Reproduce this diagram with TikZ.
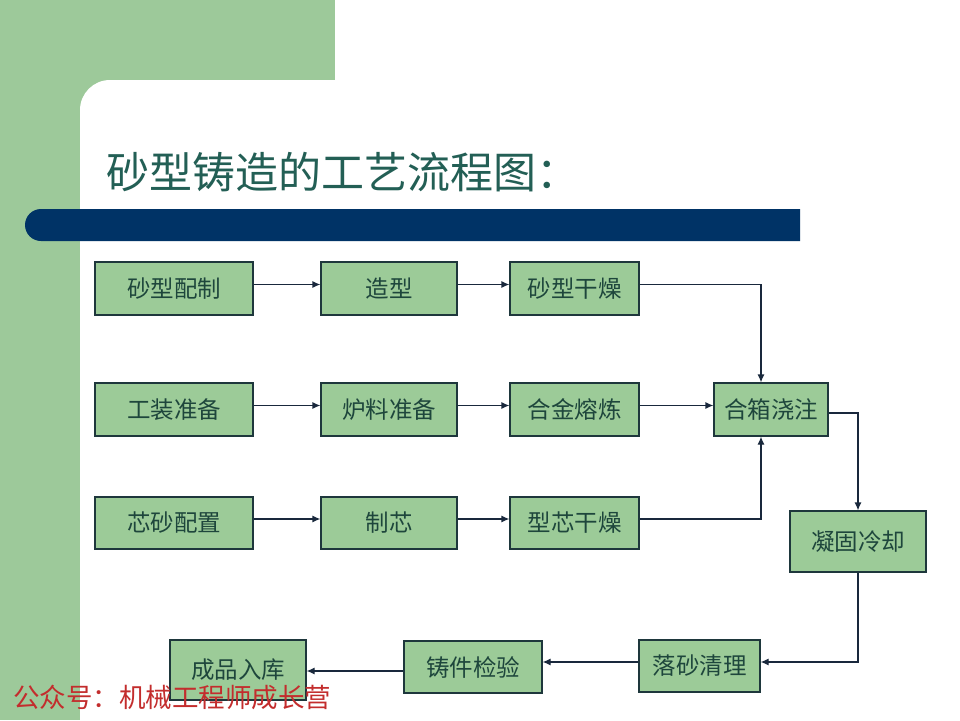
\documentclass[tikz,border=0pt]{standalone}
\usepackage{fontspec}
\setmainfont{Noto Sans CJK SC}
\usetikzlibrary{arrows.meta}
\definecolor{bggreen}{RGB}{157,201,154}
\definecolor{boxgreen}{RGB}{156,203,152}
\definecolor{navy}{RGB}{0,51,102}
\definecolor{titlecol}{RGB}{35,95,85}
\definecolor{txtcol}{RGB}{30,70,60}
\definecolor{edgecol}{RGB}{30,55,60}
\definecolor{linecol}{RGB}{25,40,60}
\definecolor{wmred}{RGB}{195,45,45}
\begin{document}
\begin{tikzpicture}[x=1pt,y=-1pt,
  stepbox/.style={draw=edgecol, line width=1.2pt, fill=boxgreen, text=txtcol,
    font=\fontsize{23.5}{25}\selectfont, inner sep=0pt, anchor=center},
  flow/.style={draw=linecol, line width=1.2pt, -{Latex[length=8pt,width=7pt]}}]
\useasboundingbox (0,0) rectangle (960,720);
% background
\fill[white] (0,0) rectangle (960,720);
\fill[bggreen] (0,0) rectangle (335,80);
\fill[bggreen] (0,0) rectangle (80,720);
\fill[bggreen] (80,80) rectangle (120,120);
\fill[white] (80,720) [rounded corners=30pt] -- (80,80) [sharp corners] -- (960,80) -- (960,720) -- cycle;
% bar
\fill[navy] (800,209) [rounded corners=16pt] -- (25,209) -- (25,241) [sharp corners] -- (800,241) -- cycle;
% title
\node[anchor=west, text=titlecol, font=\fontsize{43}{46}\selectfont, inner sep=0pt] (title) at (106,172) {砂型铸造的工艺流程图：};
% boxes
\node[stepbox, minimum width=158pt, minimum height=53pt] (a1) at (174,288.5) {砂型配制};
\node[stepbox, minimum width=136pt, minimum height=53pt] (a2) at (389,288.5) {造型};
\node[stepbox, minimum width=129pt, minimum height=53pt] (a3) at (574.5,288.5) {砂型干燥};
\node[stepbox, minimum width=158pt, minimum height=53pt] (b1) at (174,409.5) {工装准备};
\node[stepbox, minimum width=136pt, minimum height=53pt] (b2) at (389,409.5) {炉料准备};
\node[stepbox, minimum width=129pt, minimum height=53pt] (b3) at (574.5,409.5) {合金熔炼};
\node[stepbox, minimum width=114pt, minimum height=53pt] (b4) at (771,409.5) {合箱浇注};
\node[stepbox, minimum width=158pt, minimum height=52pt] (c1) at (174,523) {芯砂配置};
\node[stepbox, minimum width=136pt, minimum height=52pt] (c2) at (389,523) {制芯};
\node[stepbox, minimum width=129pt, minimum height=52pt] (c3) at (574.5,523) {型芯干燥};
\node[stepbox, minimum width=136pt, minimum height=61pt] (d1) at (858,541.5) {凝固冷却};
\node[stepbox, minimum width=121pt, minimum height=52pt] (e1) at (699.5,666) {落砂清理};
\node[stepbox, minimum width=138pt, minimum height=52pt] (e2) at (473,667) {铸件检验};
\node[stepbox, minimum width=136pt, minimum height=60pt] (e3) at (238,670) {成品入库};
% connectors
\draw[flow] ([yshift=4pt]a1.east) -- ([yshift=4pt]a2.west);
\draw[flow] ([yshift=4pt]a2.east) -- ([yshift=4pt]a3.west);
\draw[flow] ([yshift=4pt]b1.east) -- ([yshift=4pt]b2.west);
\draw[flow] ([yshift=4pt]b2.east) -- ([yshift=4pt]b3.west);
\draw[flow] ([yshift=4pt]b3.east) -- ([yshift=4pt]b4.west);
\draw[flow] ([yshift=4pt]c1.east) -- ([yshift=4pt]c2.west);
\draw[flow] ([yshift=4pt]c2.east) -- ([yshift=4pt]c3.west);
\draw[flow] ([yshift=4pt]a3.east) -| ([xshift=-10pt]b4.north);
\draw[flow] ([yshift=4pt]c3.east) -| ([xshift=-10pt]b4.south);
\draw[flow] ([yshift=-3.5pt]b4.east) -| (d1.north);
\draw[flow] (d1.south) |- ([yshift=4pt]e1.east);
\draw[flow] ([yshift=4pt]e1.west) -- ([yshift=4pt]e1.west -| e2.east);
\draw[flow] ([yshift=-4pt]e2.west) -- ([yshift=-4pt]e2.west -| e3.east);
% watermark
\node[anchor=west, text=wmred, font=\fontsize{26.5}{28}\selectfont, inner sep=0pt] (wm) at (13,697) {公众号：机械工程师成长营};
\end{tikzpicture}
\end{document}
